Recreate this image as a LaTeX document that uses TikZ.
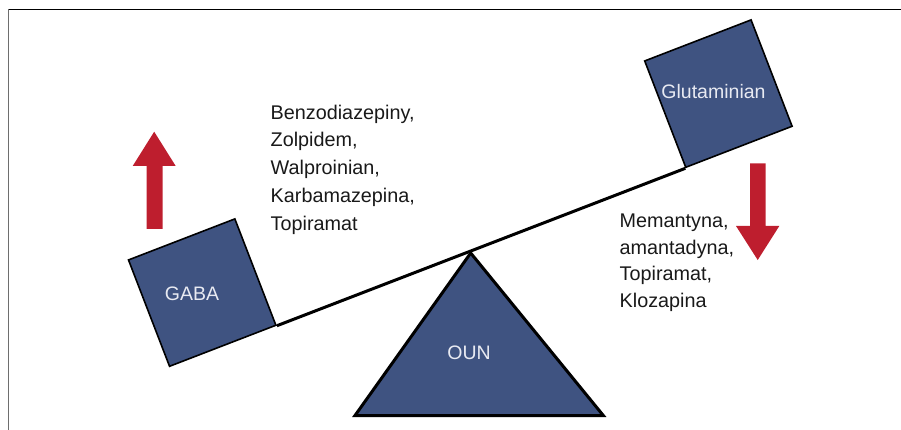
\documentclass[tikz,border=0pt]{standalone}
\usepackage{fontspec}
\setmainfont{Liberation Sans}
\definecolor{boxblue}{RGB}{63,83,129}
\definecolor{arrowred}{RGB}{190,30,46}
\definecolor{labelwhite}{RGB}{232,234,242}
\definecolor{textdark}{RGB}{25,25,25}
\definecolor{framegray}{RGB}{110,110,110}
\begin{document}
\begin{tikzpicture}[x=1pt,y=-1pt,
  weight/.style={draw=black, line width=1.6pt, fill=boxblue,
    minimum width=114pt, minimum height=114pt, inner sep=0pt, rotate=21.1},
  boxlabel/.style={text=labelwhite, font=\fontsize{19.5}{23}\selectfont, inner sep=0pt},
  druglist/.style={text=textdark, align=left, inner sep=0pt, anchor=base west},
  beam/.style={draw=black, line width=3pt},
  fulcrum/.style={draw=black, fill=boxblue, line width=3pt, line join=miter},
  redarrow/.style={fill=arrowred},
]
\useasboundingbox (0,0) rectangle (901,430);

% frame edges
\draw[framegray, line width=1.5pt] (8.7,430) -- (8.7,9.3);
\draw[black, line width=1.5pt] (8.7,9.3) -- (901,9.3);

% fulcrum
\coordinate (apex) at (470.7,253);
\coordinate (baseL) at (355,415.5);
\coordinate (baseR) at (603.3,415.5);
\draw[fulcrum] (apex) -- (baseL) -- (baseR) -- cycle;
\node[boxlabel] (oun) at (469,352.5) {OUN};

% weights on the beam
\node[weight] (gaba) at (202.2,292.6) {};
\node[weight] (glu) at (718.4,93.6) {};
\node[boxlabel] (gabaText) at (192,294) {GABA};
\node[boxlabel] (gluText) at (713.5,92) {Glutaminian};

% beam
\draw[beam] (gaba.south east) -- (glu.south west);

% arrows
\fill[redarrow] (146.7,229) -- (146.7,166) -- (132.7,166) -- (154.2,131.7)
  -- (175.7,166) -- (162.7,166) -- (162.7,229) -- cycle;
\fill[redarrow] (750,163.3) -- (765.7,163.3) -- (765.7,226) -- (779.3,226)
  -- (757.7,260) -- (736,226) -- (750,226) -- cycle;

% drug lists (anchored at the baseline of their last line)
\node[druglist, font=\fontsize{19.8}{27.7}\selectfont] (gabaDrugs) at (270.5,230)
  {Benzodiazepiny,\\Zolpidem,\\Walproinian,\\Karbamazepina,\\Topiramat};
\node[druglist, font=\fontsize{19.8}{26.8}\selectfont] (gluDrugs) at (619.5,307.7)
  {Memantyna,\\amantadyna,\\Topiramat,\\Klozapina};
\end{tikzpicture}
\end{document}
